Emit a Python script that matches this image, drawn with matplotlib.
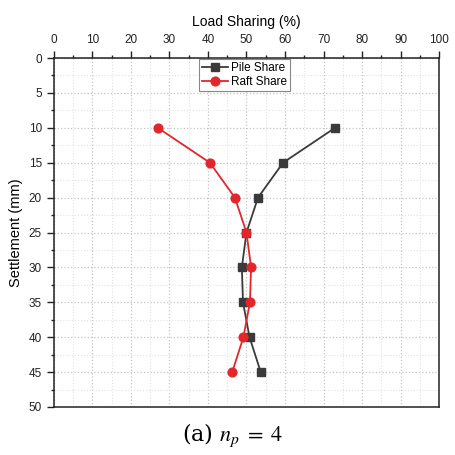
import matplotlib
matplotlib.use("Agg")
import matplotlib.pyplot as plt
from matplotlib.ticker import MultipleLocator

plt.rcParams['font.family'] = ['Liberation Sans', 'DejaVu Sans']
plt.rcParams['mathtext.fontset'] = 'stix'

settlement = [10, 15, 20, 25, 30, 35, 40, 45]
pile_share = [73.0, 59.5, 53.0, 50.0, 48.8, 49.1, 50.8, 53.7]
raft_share = [27.0, 40.5, 47.0, 50.0, 51.2, 50.9, 49.2, 46.3]

fig = plt.figure(figsize=(4.56, 4.55), dpi=100)
ax = fig.add_axes([0.118, 0.1055, 0.845, 0.767])

ax.plot(pile_share, settlement, color='#3a3a3a', marker='s', markersize=5.8,
        linewidth=1.3, label='Pile Share', zorder=3)
ax.plot(raft_share, settlement, color='#e3262b', marker='o', markersize=6.3,
        linewidth=1.3, label='Raft Share', zorder=3)

ax.set_xlim(0, 100)
ax.set_ylim(50, 0)
ax.xaxis.set_major_locator(MultipleLocator(10))
ax.xaxis.set_minor_locator(MultipleLocator(5))
ax.yaxis.set_major_locator(MultipleLocator(5))
ax.yaxis.set_minor_locator(MultipleLocator(2.5))
ax.xaxis.tick_top()
ax.xaxis.set_label_position('top')
ax.tick_params(which='major', direction='out', length=5, width=1, labelsize=8.5, colors='#222222')
ax.tick_params(which='minor', direction='out', length=2.5, width=1, colors='#222222')
ax.tick_params(axis='x', which='both', top=True, bottom=False)

ax.grid(which='major', color='#c4c4c4', linestyle=':', linewidth=0.9)
ax.grid(which='minor', color='#e2e2e2', linestyle=':', linewidth=0.8)
ax.set_axisbelow(True)

for s in ax.spines.values():
    s.set_linewidth(1.1)
    s.set_color('#222222')

ax.set_xlabel('Load Sharing (%)', fontsize=10, labelpad=6)
ax.set_ylabel('Settlement (mm)', fontsize=10.5, labelpad=4)

leg = ax.legend(loc='upper center', bbox_to_anchor=(0.495, 1.0), fontsize=8.5,
                fancybox=False, framealpha=1, edgecolor='#888888',
                borderpad=0.25, handlelength=2.2, handletextpad=0.3,
                labelspacing=0.15, borderaxespad=0.1)
leg.get_frame().set_linewidth(0.8)

fig.text(0.51, 0.043, r'(a) $n_p\;=\;4$', ha='center', va='center',
         fontsize=16, family='DejaVu Serif')

fig.savefig('out.png', dpi=100)
